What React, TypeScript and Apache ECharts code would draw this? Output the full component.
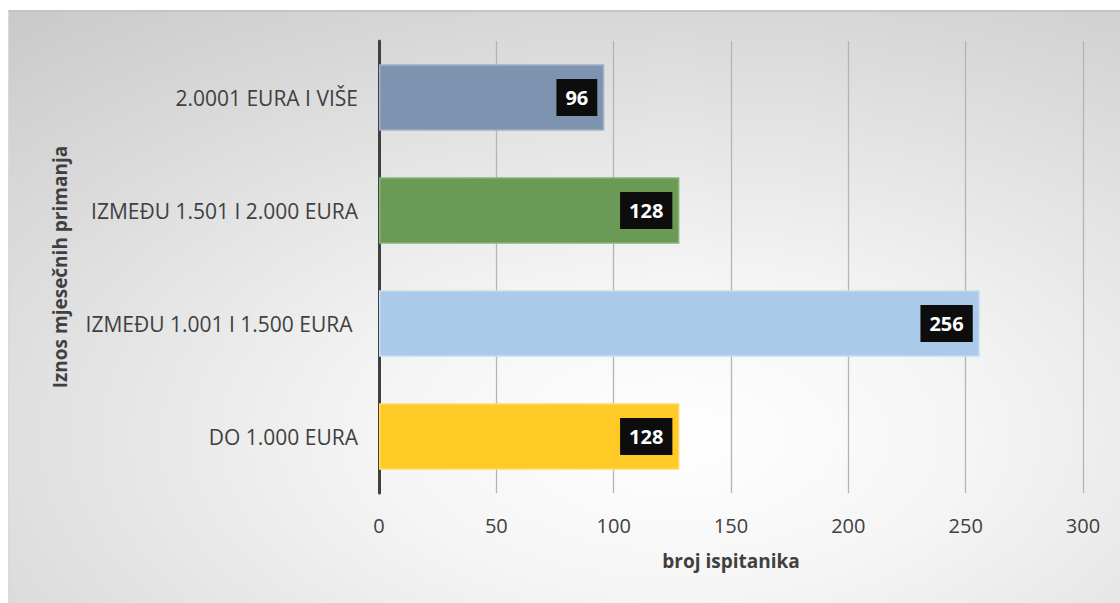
import React, { useEffect, useRef } from "react";
import * as echarts from "echarts";

const categories = ["DO 1.000 EURA", "IZMEĐU 1.001 I 1.500 EURA ", "IZMEĐU 1.501 I 2.000 EURA", "2.0001 EURA I VIŠE"];
const values = [128, 256, 128, 96];
const barColors = ["#FFC926", "#A9CAE9", "#6B9A56", "#7E93AF"];
const borderColors = ["#FFD966", "#C5DCF1", "#8BB078", "#A0B0C6"];
const xTitle = "broj ispitanika";
const yTitle = "Iznos mjesečnih primanja";

export default function App() {
  const ref = useRef<HTMLDivElement>(null);
  useEffect(() => {
    const chart = echarts.init(ref.current!, null, { renderer: "svg" });
    const font = "'Open Sans', sans-serif";
    chart.setOption({
      animation: false,
      backgroundColor: {
        type: "radial",
        x: 0.6,
        y: 0.72,
        r: 1.05,
        colorStops: [
          { offset: 0, color: "#ffffff" },
          { offset: 0.25, color: "#f5f5f5" },
          { offset: 1, color: "#c2c2c2" },
        ],
      },
      grid: { left: 370, right: 37, top: 29, bottom: 110 },
      xAxis: {
        type: "value",
        min: 0,
        max: 300,
        interval: 50,
        name: xTitle,
        nameLocation: "middle",
        nameGap: 58,
        nameTextStyle: { fontFamily: font, fontWeight: "bold", fontSize: 19, color: "#404040" },
        axisLine: { show: false },
        axisTick: { show: false },
        axisLabel: { fontFamily: font, fontSize: 20, color: "#404040", margin: 22 },
        splitLine: { show: true, lineStyle: { color: "#b4b4b4", width: 1.3 } },
      },
      yAxis: {
        type: "category",
        data: categories,
        name: yTitle,
        nameLocation: "middle",
        nameGap: 310,
        nameRotate: 90,
        nameTextStyle: { fontFamily: font, fontWeight: "bold", fontSize: 19, color: "#404040" },
        axisLine: { show: true, lineStyle: { color: "#404040", width: 3 } },
        axisTick: { show: false },
        axisLabel: { fontFamily: font, fontSize: 21, color: "#404040", margin: 21 },
      },
      series: [
        {
          type: "bar",
          barWidth: "59%",
          data: values.map((v, i) => ({
            value: v,
            itemStyle: { color: barColors[i], borderColor: borderColors[i], borderWidth: 1.5 },
          })),
          label: {
            show: true,
            position: "insideRight",
            distance: 7,
            backgroundColor: "#0d0d0d",
            color: "#ffffff",
            fontFamily: font,
            fontWeight: "bold",
            fontSize: 20,
            padding: [9, 9, 8, 9],
          },
        },
      ],
    });
    return () => chart.dispose();
  }, []);
  return (
    <div
      ref={ref}
      style={{
        position: "absolute",
        left: 8,
        top: 10,
        width: 1112,
        height: 593,
        borderTop: "2px solid #c4c4c4",
        borderLeft: "1px solid #d9d9d9",
        boxSizing: "border-box",
      }}
    />
  );
}
